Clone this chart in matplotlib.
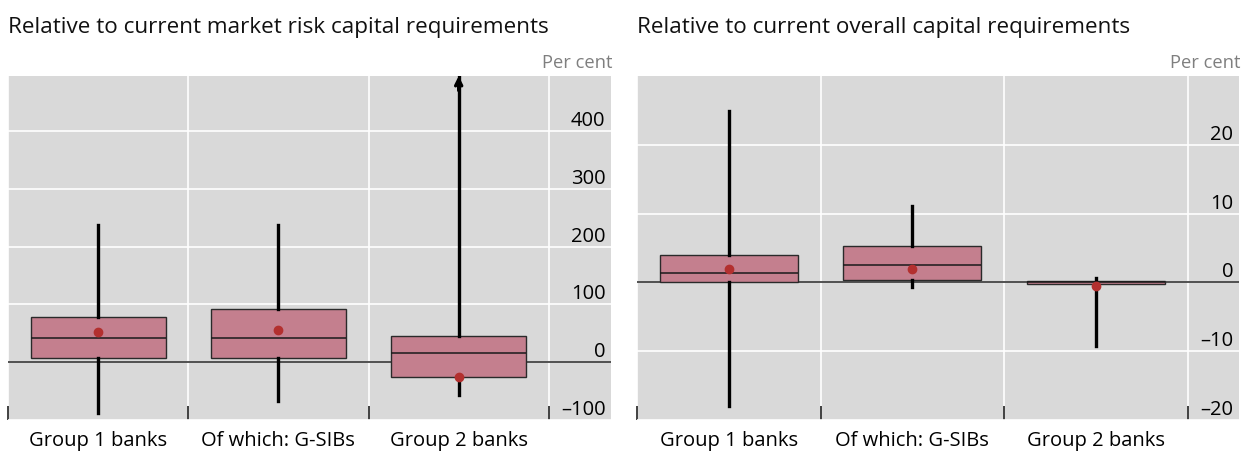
import matplotlib.pyplot as plt
from matplotlib.ticker import FixedLocator

plt.rcParams['font.family'] = ['Open Sans', 'DejaVu Sans']

categories = ['Group 1 banks', 'Of which: G-SIBs', 'Group 2 banks']

# panel 1: relative to current market risk capital requirements (per cent)
mr_whislo = [-88, -67, -56]
mr_q1 = [7, 8, -26]
mr_med = [41, 41, 16]
mr_q3 = [78, 92, 45]
mr_whishi = [237, 237, 700]   # group 2 upper whisker runs off the chart
mr_mean = [52, 55, -26]

# panel 2: relative to current overall capital requirements (per cent)
oc_whislo = [-17.9, -0.6, -9.3]
oc_q1 = [0.0, 0.3, -0.3]
oc_med = [1.3, 2.5, 0.0]
oc_q3 = [4.0, 5.3, 0.25]
oc_whishi = [24.9, 11.1, 0.6]
oc_mean = [1.95, 1.9, -0.5]

BG = '#d9d9d9'
BOX = '#c47f8e'
DOT = '#b3302f'


def draw_panel(ax, lo, q1, med, q3, hi, mean, ylim, yticks, xmax):
    stats = []
    for i in range(len(categories)):
        stats.append(dict(whislo=lo[i], q1=q1[i], med=med[i], q3=q3[i],
                          whishi=hi[i], mean=mean[i]))
    ax.set_facecolor(BG)
    ax.axhline(0, color='#222222', lw=1.1, zorder=1)
    ax.bxp(stats, positions=range(len(categories)), widths=0.75,
           showmeans=True, showcaps=False, showfliers=False,
           patch_artist=True,
           boxprops=dict(facecolor=BOX, edgecolor='#2a2a2a', lw=1),
           medianprops=dict(color='#1a1a1a', lw=1.1),
           whiskerprops=dict(color='black', lw=2.4),
           meanprops=dict(marker='o', markerfacecolor=DOT,
                          markeredgecolor=DOT, markersize=6),
           zorder=3)
    ax.set_ylim(*ylim)
    ax.set_xlim(-0.5, xmax)
    for s in ax.spines.values():
        s.set_visible(False)

    ax.yaxis.tick_right()
    ax.set_yticks(yticks)
    ax.set_yticklabels([f'{t}'.replace('-', '\u2013') for t in yticks])
    ax.tick_params(axis='y', length=0, pad=-4, labelsize=14.5)
    for lab in ax.get_yticklabels():
        lab.set_horizontalalignment('right')
        lab.set_verticalalignment('bottom')
    ax.grid(axis='y', color='white', lw=1.2)

    ax.set_xticks(range(len(categories)))
    ax.set_xticklabels(categories, fontsize=14.5)
    ax.tick_params(axis='x', which='major', length=0, pad=8)
    ax.xaxis.set_minor_locator(FixedLocator([-0.5, 0.5, 1.5, 2.5]))
    ax.tick_params(axis='x', which='minor', direction='in', length=10,
                   width=1.2, color='#222222')
    ax.grid(axis='x', which='minor', color='white', lw=1.2)
    ax.set_axisbelow(True)


fig = plt.figure(figsize=(12.54, 4.53), dpi=100)
W, H = 1254, 453
ax1 = fig.add_axes([8 / W, 1 - 420 / H, (611 - 8) / W, (420 - 76) / H])
ax2 = fig.add_axes([637 / W, 1 - 420 / H, (1239 - 637) / W, (420 - 76) / H])

draw_panel(ax1, mr_whislo, mr_q1, mr_med, mr_q3, mr_whishi, mr_mean,
           (-100, 495), [-100, 0, 100, 200, 300, 400], 2.845)
draw_panel(ax2, oc_whislo, oc_q1, oc_med, oc_q3, oc_whishi, oc_mean,
           (-20, 30), [-20, -10, 0, 10, 20], 2.78)

# arrow for the group 2 whisker that leaves the chart
ax1.annotate('', xy=(2, 495), xytext=(2, 470),
             arrowprops=dict(arrowstyle='->', color='black', lw=2.4,
                             shrinkA=0, shrinkB=0, mutation_scale=11),
             zorder=5)

fig.text(8 / W, 1 - 27 / H, 'Relative to current market risk capital requirements',
         fontsize=16.2, va='center', ha='left', color='#111111')
fig.text(637 / W, 1 - 27 / H, 'Relative to current overall capital requirements',
         fontsize=16.2, va='center', ha='left', color='#111111')
fig.text(612 / W, 1 - 63 / H, 'Per cent', fontsize=13.2, color='#7f7f7f',
         ha='right', va='center')
fig.text(1240 / W, 1 - 63 / H, 'Per cent', fontsize=13.2, color='#7f7f7f',
         ha='right', va='center')

fig.savefig('out.png', dpi=100)
